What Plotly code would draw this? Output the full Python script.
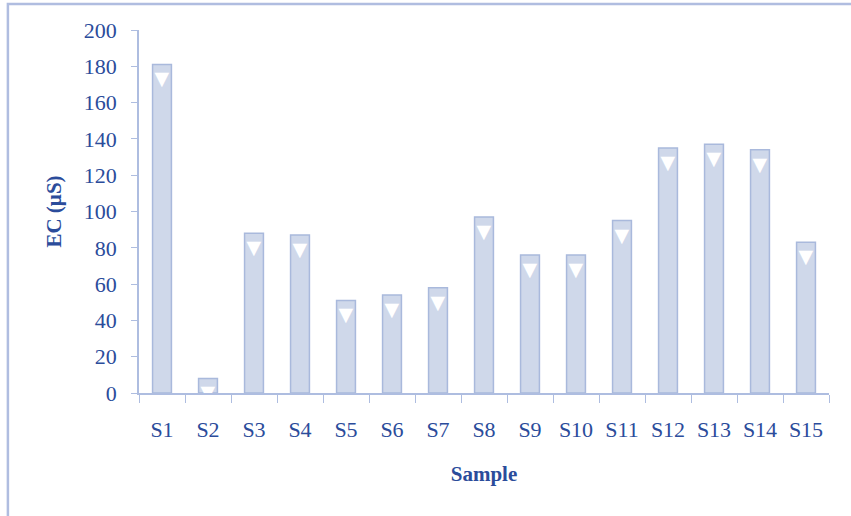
import plotly.graph_objects as go

samples = ["S1", "S2", "S3", "S4", "S5", "S6", "S7", "S8", "S9", "S10",
           "S11", "S12", "S13", "S14", "S15"]
ec_values = [181, 8, 88, 87, 51, 54, 58, 97, 76, 76, 95, 135, 137, 134, 83]

text_color = "#2b4c9b"
axis_color = "#aebde0"
font_family = "Liberation Serif, Times New Roman, serif"

fig = go.Figure()
fig.add_trace(go.Bar(
    x=samples,
    y=ec_values,
    marker=dict(color="#cfd8ea", line=dict(color="#a9b9dc", width=1.5)),
    texttemplate="▼",
    textposition="inside",
    insidetextanchor="end",
    constraintext="none",
    textangle=0,
    textfont=dict(color="white", size=19, family="DejaVu Sans"),
    hoverinfo="x+y",
))

fig.update_layout(
    width=851,
    height=516,
    margin=dict(l=139, r=22, t=30, b=123),
    paper_bgcolor="white",
    plot_bgcolor="white",
    showlegend=False,
    bargap=0.59,
    font=dict(family=font_family, color=text_color, size=20),
    shapes=[dict(
        type="rect", xref="paper", yref="paper",
        x0=-0.19, x1=2.0, y0=-1.0, y1=1.0716,
        line=dict(color="#b0bde0", width=2.5),
        fillcolor="rgba(0,0,0,0)", layer="below",
    )],
)

fig.update_xaxes(
    showline=True, linecolor=axis_color, linewidth=1.5,
    ticks="outside", ticklen=8, tickcolor=axis_color, tickwidth=1,
    tickson="boundaries",
    ticklabelstandoff=16,
    tickfont=dict(size=22, family=font_family, color=text_color),
    showgrid=False, zeroline=False,
    title=dict(text="<b>Sample</b>", standoff=25,
               font=dict(size=21, family=font_family, color=text_color)),
)
fig.update_yaxes(
    range=[0, 200], dtick=20,
    showline=True, linecolor=axis_color, linewidth=1.5,
    ticks="outside", ticklen=6, tickcolor=axis_color, tickwidth=1,
    ticklabelstandoff=10,
    tickfont=dict(size=22, family=font_family, color=text_color),
    showgrid=False, zeroline=False,
    title=dict(text="<b>EC (µS)</b>", standoff=16,
               font=dict(size=21, family=font_family, color=text_color)),
)

# remove the page's default body margin so the figure fills the window exactly
fig.write_html("out.html", config={"displayModeBar": False},
               post_script="document.body.style.margin='0';")
